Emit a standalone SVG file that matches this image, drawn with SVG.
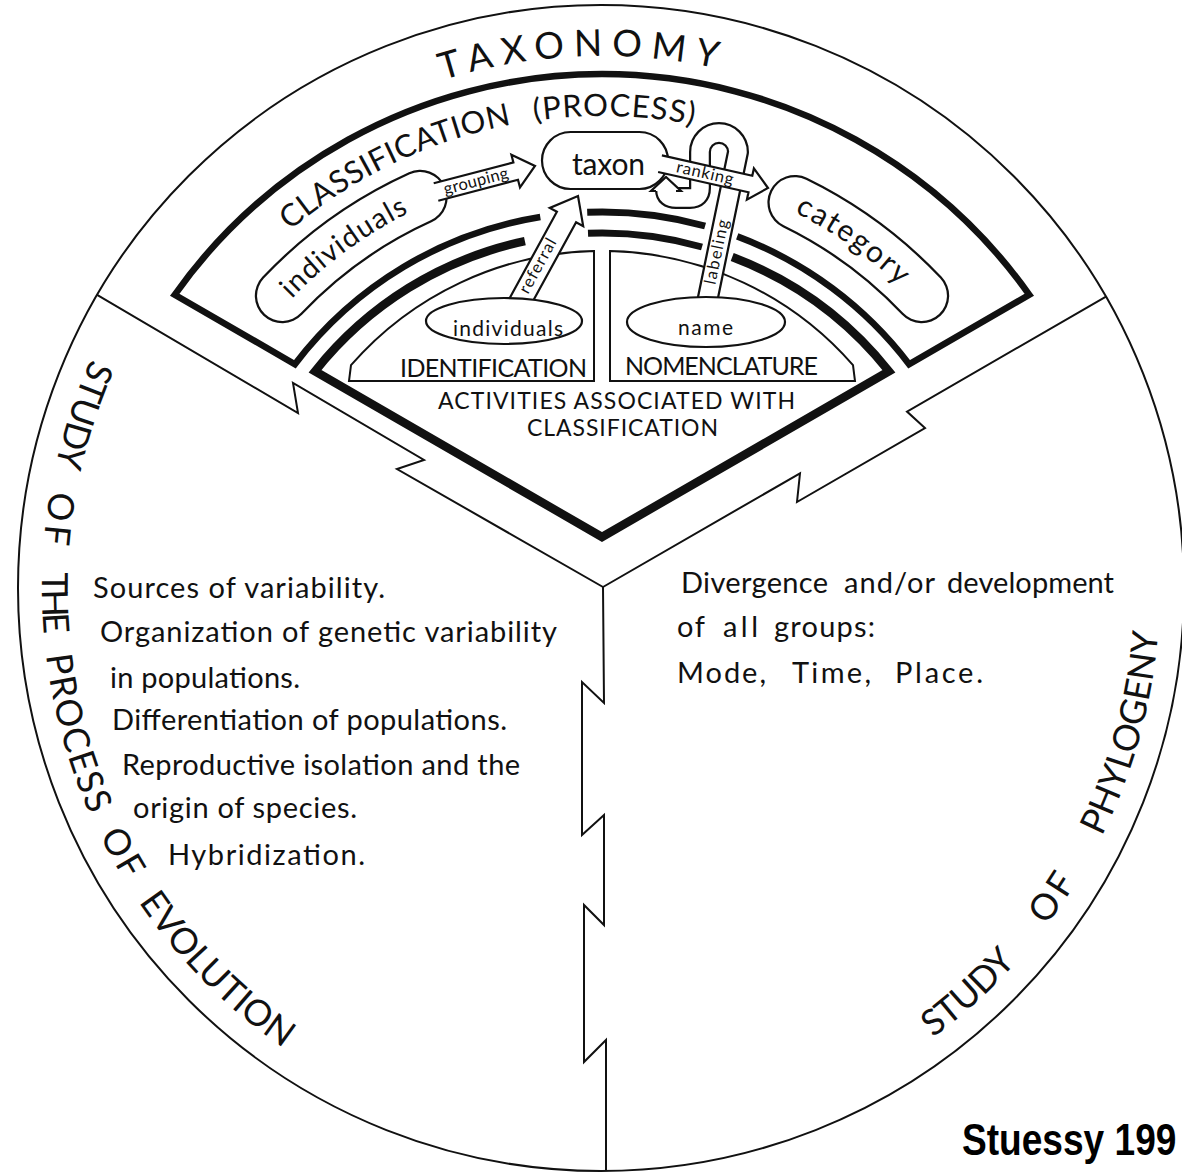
<svg xmlns="http://www.w3.org/2000/svg" width="1182" height="1175" viewBox="0 0 1182 1175">
<defs>
<style>
.ln{fill:none;stroke:#111;stroke-width:2}
.tk{fill:none;stroke:#111;stroke-linejoin:miter;stroke-miterlimit:10}
.t{font-family:Lato,'Noto Sans','DejaVu Sans',sans-serif;fill:#111}
.box{fill:#fff;stroke:#111;stroke-width:2.2}
.arr{fill:#fff;stroke:#111;stroke-width:2.2;stroke-linejoin:miter}
.tubeO{fill:none;stroke:#111;stroke-width:22;stroke-linejoin:round}
.tubeI{fill:none;stroke:#fff;stroke-width:17.5;stroke-linejoin:round}
.capO{fill:none;stroke:#111;stroke-width:55;stroke-linecap:round}
.capI{fill:none;stroke:#fff;stroke-width:50.5;stroke-linecap:round}
</style>
<path id="pTax" d="M 331,128.6 A 542 542 0 0 1 873,128.6"/>
<path id="pCls" d="M 184.6,357 A 482 482 0 0 1 843,180.6"/>
<path id="pOut" d="M 116.9,308.5 A 559 559 0 1 0 1151.5,490.9"/>
<path id="pInd" d="M 243.2,359.2 A 431 431 0 0 1 480.7,184.4"/>
<path id="pCat" d="M 713.9,181.8 A 431 431 0 0 1 955.3,351.1"/>
</defs>
<rect width="1182" height="1175" fill="#fff"/>

<g id="outer-circle">
<circle cx="601" cy="588" r="583" class="ln" stroke-width="2.2"/>
</g>

<g id="dividers">
<path class="ln" d="M 603,587 L 397,469 L 424,460 L 293,383 L 298,413 L 97.1,294.9"/>
<path class="ln" d="M 603,587 L 800,473.3 L 797,502 L 925,428 L 907,411.6 L 1106,296.6"/>
<path class="ln" d="M 603,587 L 604,703 L 582,682 L 582,835 L 604,815 L 604,925 L 584,905 L 584,1062 L 606,1040 L 606,1171"/>
</g>

<g id="sector-evolution">
<text class="t" font-size="36"><textPath href="#pOut" startOffset="56.6" textLength="113">STUDY</textPath></text>
<text class="t" font-size="36"><textPath href="#pOut" startOffset="195" textLength="54">OF</textPath></text>
<text class="t" font-size="36"><textPath href="#pOut" startOffset="277" textLength="62">THE</textPath></text>
<text class="t" font-size="36"><textPath href="#pOut" startOffset="360" textLength="166">PROCESS</textPath></text>
<text class="t" font-size="36"><textPath href="#pOut" startOffset="549" textLength="52">OF</textPath></text>
<text class="t" font-size="36"><textPath href="#pOut" startOffset="626" textLength="207">EVOLUTION</textPath></text>
<text class="t" font-size="29" x="93" y="598" textLength="292">Sources of variability.</text>
<text class="t" font-size="29" x="100" y="642" textLength="457">Organization of genetic variability</text>
<text class="t" font-size="29" x="110" y="688" textLength="190">in populations.</text>
<text class="t" font-size="29" x="112" y="730" textLength="395">Differentiation of populations.</text>
<text class="t" font-size="29" x="122" y="775" textLength="398">Reproductive isolation and the</text>
<text class="t" font-size="29" x="133" y="818" textLength="224">origin of species.</text>
<text class="t" font-size="29" x="168" y="865" textLength="197">Hybridization.</text>
</g>

<g id="sector-phylogeny">
<text class="t" font-size="36"><textPath href="#pOut" startOffset="1526" textLength="113">STUDY</textPath></text>
<text class="t" font-size="36"><textPath href="#pOut" startOffset="1686" textLength="53">OF</textPath></text>
<text class="t" font-size="36"><textPath href="#pOut" startOffset="1791" textLength="213">PHYLOGENY</textPath></text>
<text class="t" font-size="29" x="681" y="593" textLength="147">Divergence</text>
<text class="t" font-size="29" x="844" y="593" textLength="91">and/or</text>
<text class="t" font-size="29" x="947" y="593" textLength="167">development</text>
<text class="t" font-size="29" x="677" y="637" textLength="28">of</text>
<text class="t" font-size="29" x="723" y="637" textLength="35">all</text>
<text class="t" font-size="29" x="774" y="637" textLength="101">groups:</text>
<text class="t" font-size="29" x="677" y="683" textLength="89">Mode,</text>
<text class="t" font-size="29" x="792" y="683" textLength="79">Time,</text>
<text class="t" font-size="29" x="895" y="683" textLength="88">Place.</text>
</g>

<g id="sector-taxonomy">
<text class="t" font-size="37"><textPath href="#pTax" startOffset="122" textLength="277">TAXONOMY</textPath></text>
</g>

<g id="classification-frame">
<path class="tk" stroke-width="6.5" d="M 540.3,217 A 386 386 0 0 0 294.9,364.2 L 174.7,294.8 A 524 524 0 0 1 1029.3,294.8 L 909.1,364.2 A 386 386 0 0 0 737.2,236.4"/>
<path class="tk" stroke-width="7" d="M 587.2,212.3 A 386 386 0 0 1 705.1,226"/>
<text class="t" font-size="31"><textPath href="#pCls" startOffset="165.4" textLength="248">CLASSIFICATION</textPath></text>
<text class="t" font-size="31"><textPath href="#pCls" startOffset="436.6" textLength="160">(PROCESS)</textPath></text>
</g>

<g id="activities-frame">
<path class="tk" stroke-width="8.5" d="M 524.9,241.2 A 365 365 0 0 0 315,371.3 L 602,537 L 889,371.3 A 365 365 0 0 0 732.2,257"/>
<path class="tk" stroke-width="7" d="M 588,233.3 A 365 365 0 0 1 702,247"/>
<text class="t" font-size="23" x="438" y="409" textLength="357">ACTIVITIES ASSOCIATED WITH</text>
<text class="t" font-size="23" x="527" y="436" textLength="191">CLASSIFICATION</text>
</g>

<g id="identification">
<path class="ln" d="M 594,251.1 A 333 333 0 0 0 351,365.2 L 349,381 L 594,381 Z"/>
<text class="t" font-size="25" x="400" y="377" textLength="187">IDENTIFICATION</text>
</g>

<g id="nomenclature">
<path class="ln" d="M 610,251.1 A 333 333 0 0 1 853,365.2 L 855,381 L 610,381 Z"/>
<text class="t" font-size="25" x="625" y="375" textLength="193">NOMENCLATURE</text>
</g>

<g id="individuals-box">
<path class="capO" d="M 282.3,295.7 A 440 440 0 0 1 420.2,197.3"/>
<path class="capI" d="M 282.3,295.7 A 440 440 0 0 1 420.2,197.3"/>
<text class="t" font-size="28.5" text-anchor="middle"><textPath href="#pInd" startOffset="50%" textLength="146">individuals</textPath></text>
</g>

<g id="category-box">
<path class="capO" d="M 794.9,202.5 A 440 440 0 0 1 921.7,295.7"/>
<path class="capI" d="M 794.9,202.5 A 440 440 0 0 1 921.7,295.7"/>
<text class="t" font-size="30" text-anchor="middle"><textPath href="#pCat" startOffset="50%" textLength="128">category</textPath></text>
</g>

<g id="taxon">
<rect x="542" y="132" width="126" height="57" rx="28.5" class="box"/>
<text class="t" font-size="30" x="572" y="175" textLength="73">taxon</text>
</g>

<g id="connectors">
<path class="tubeO" d="M 705,312 L 738,152 A 19 19 0 0 0 700,152 L 700,188 Q 700,198 690,198 L 676,198 Q 666,198 666,190"/>
<path class="tubeI" d="M 705,312 L 738,152 A 19 19 0 0 0 700,152 L 700,188 Q 700,198 690,198 L 676,198 Q 666,198 666,190"/>
<path class="arr" d="M 656,191 L 651,191 L 666,177 L 681,191 L 676,191"/>
<path class="arr" d="M 509.6,298.2 L 556.9,211.7 L 549.8,207.9 L 578,196 L 583.2,226.1 L 576.1,222.3 L 533.7,299.7"/>
<path class="arr" d="M 433.7,183.3 L 513.4,162.4 L 511.4,154.7 L 535,166 L 520,187.5 L 518,179.8 L 438.3,200.7"/>
<path class="arr" d="M 661.9,155.4 L 752.3,175.7 L 753.9,168.4 L 768,188 L 746.9,199.6 L 748.5,192.3 L 658.1,172"/>
<text class="t" font-size="16.5" text-anchor="middle" transform="translate(476,181.5) rotate(-14.7)" y="5" textLength="66">grouping</text>
<text class="t" font-size="16.5" text-anchor="middle" transform="translate(705,173.5) rotate(12.8)" y="5" textLength="58">ranking</text>
<text class="t" font-size="16.5" text-anchor="middle" transform="translate(538,266) rotate(-61.3)" y="5" textLength="60">referral</text>
<text class="t" font-size="16.5" text-anchor="middle" transform="translate(717,252) rotate(-78.2)" y="5" textLength="66">labeling</text>
</g>

<g id="individuals-ellipse">
<ellipse cx="504" cy="321" rx="78" ry="23" class="box"/>
<text class="t" font-size="21" x="453" y="336" textLength="110">individuals</text>
</g>

<g id="name-ellipse">
<ellipse cx="706" cy="322" rx="79" ry="25" class="box"/>
<text class="t" font-size="21" x="678" y="335" textLength="55">name</text>
</g>

<g id="credit">
<text transform="translate(962,1155) scale(0.83,1)" font-family="'Liberation Sans',Arial,sans-serif" font-weight="bold" font-size="44.7" fill="#000">Stuessy 199</text>
</g>
</svg>
